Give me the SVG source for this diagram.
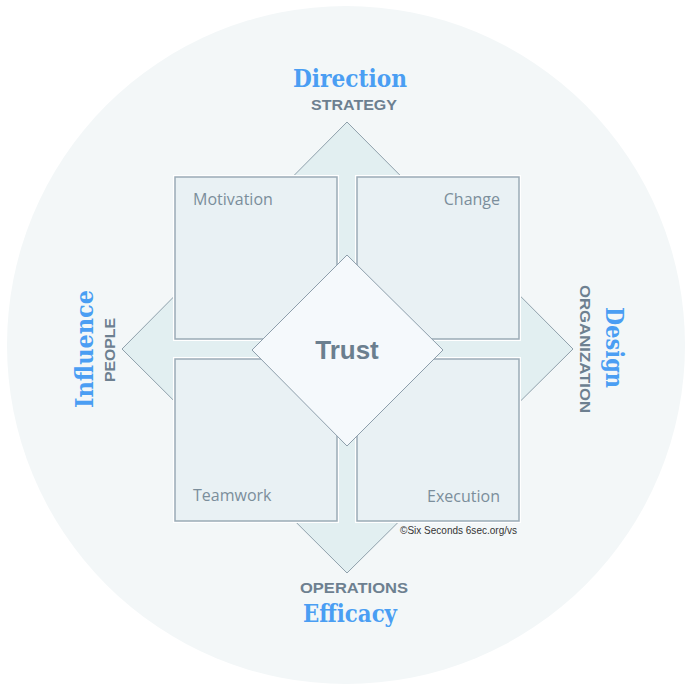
<svg xmlns="http://www.w3.org/2000/svg" width="685" height="690" viewBox="0 0 685 690">
<style>
.sq{fill:#e9f1f4;stroke:#9aabb6;stroke-width:1.5}
.halo{fill:none;stroke:#ffffff;stroke-width:4}
.lbl{font-family:"Open Sans","Liberation Sans",sans-serif;font-size:16px;fill:#7b8e9b}
.blue{font-family:"DejaVu Serif","Liberation Serif",serif;font-weight:bold;font-size:24px;fill:#4a9ef3}
.sub{font-family:"Liberation Sans",Arial,sans-serif;font-weight:bold;font-size:15px;fill:#6d8090}
</style>
<rect width="685" height="690" fill="#ffffff"/>
<circle cx="346" cy="345" r="339" fill="#f3f7f8"/>
<g id="connectors">
<polygon points="347,122 573,349 347,573 122,349" fill="#e2eff1" stroke="#8fa0ab" stroke-width="1"/>
</g>
<g id="motivation">
<rect class="halo" x="175" y="177" width="162" height="162"/>
<rect class="sq" x="175" y="177" width="162" height="162"/>
<text class="lbl" x="193" y="205">Motivation</text>
</g>
<g id="change">
<rect class="halo" x="357" y="177" width="162" height="162"/>
<rect class="sq" x="357" y="177" width="162" height="162"/>
<text class="lbl" x="500" y="205" text-anchor="end">Change</text>
</g>
<g id="teamwork">
<rect class="halo" x="175" y="359" width="162" height="162"/>
<rect class="sq" x="175" y="359" width="162" height="162"/>
<text class="lbl" x="193" y="501">Teamwork</text>
</g>
<g id="execution">
<rect class="halo" x="357" y="359" width="162" height="162"/>
<rect class="sq" x="357" y="359" width="162" height="162"/>
<text class="lbl" x="500" y="502" text-anchor="end">Execution</text>
</g>
<g id="trust">
<polygon points="347,255 443,350 347,446 252,350" fill="#f5f9fc" stroke="#8d9eab" stroke-width="1"/>
<text x="347" y="359" text-anchor="middle" font-family="'Liberation Sans',Arial,sans-serif" font-weight="bold" font-size="26" fill="#6b7f8f">Trust</text>
</g>
<g id="direction">
<text class="blue" x="350" y="87" text-anchor="middle" textLength="114" lengthAdjust="spacingAndGlyphs">Direction</text>
<text class="sub" x="354" y="110" text-anchor="middle" textLength="86" lengthAdjust="spacingAndGlyphs">STRATEGY</text>
</g>
<g id="influence">
<text class="blue" transform="translate(93,349) rotate(-90)" x="0" y="0" text-anchor="middle" textLength="118" lengthAdjust="spacingAndGlyphs">Influence</text>
<text class="sub" transform="translate(115,350) rotate(-90)" x="0" y="0" text-anchor="middle" textLength="64" lengthAdjust="spacingAndGlyphs">PEOPLE</text>
</g>
<g id="design">
<text class="blue" transform="translate(606,347.5) rotate(90)" x="0" y="0" text-anchor="middle" textLength="81" lengthAdjust="spacingAndGlyphs">Design</text>
<text class="sub" transform="translate(580,349) rotate(90)" x="0" y="0" text-anchor="middle" textLength="128" lengthAdjust="spacingAndGlyphs">ORGANIZATION</text>
</g>
<g id="efficacy">
<text class="sub" x="354" y="593" text-anchor="middle" textLength="108" lengthAdjust="spacingAndGlyphs">OPERATIONS</text>
<text class="blue" x="350" y="622" text-anchor="middle" textLength="94" lengthAdjust="spacingAndGlyphs">Efficacy</text>
</g>
<text x="400" y="534" font-family="'Liberation Sans',Arial,sans-serif" font-size="10.5" fill="#333333" textLength="117" lengthAdjust="spacingAndGlyphs">©Six Seconds 6sec.org/vs</text>
</svg>
